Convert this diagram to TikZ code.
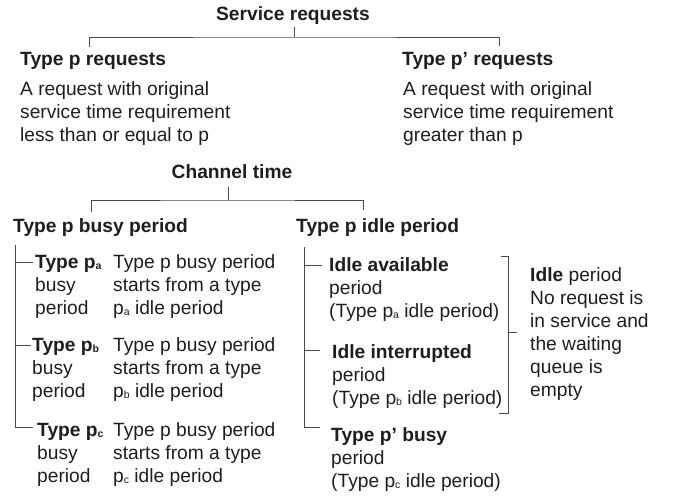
\documentclass[tikz,border=0pt]{standalone}
\usepackage{fontspec}
\setmainfont{Liberation Sans}
\definecolor{ink}{HTML}{1E1E1E}
\definecolor{rule}{HTML}{4A4A4A}
\newcommand{\bodysize}{\fontsize{19.2}{23}\selectfont}
% small lowered index letter after p
\newcommand{\pidx}[1]{p\raisebox{-1pt}{\fontsize{10.5}{10.5}\selectfont #1}}
\begin{document}
\begin{tikzpicture}[x=1pt,y=-1pt,
  txt/.style={anchor=north west,inner sep=0pt,align=left,text=ink,
    font=\bodysize},
  hd/.style={txt,font=\bodysize\bfseries},
  tree/.style={draw=rule,line width=0.9pt}]
\useasboundingbox (0,0) rectangle (673,498);

% top level: service requests
\node[hd,anchor=north] (sr) at (293,4.6) {\strut Service requests};
\node[hd] (tp) at (20,49.6) {\strut Type p requests};
\node[txt] (tpd) at (20,79.6) {\strut A request with original\\service time requirement\\less than or equal to p};
\node[hd] (tpp) at (402,49.6) {\strut Type p’ requests};
\node[txt] (tppd) at (403,79.6) {\strut A request with original\\service time requirement\\greater than p};

\coordinate (srj) at (294,37);
\coordinate (srs) at (294,27);
\coordinate (tpj) at (89,47);
\coordinate (tppj) at (499,46);
\draw[tree] (srs) -- (srj);
\draw[tree] (tpj) |- (srj) -| (tppj);

% channel time
\node[hd,anchor=north] (ct) at (232,162.6) {\strut Channel time};
\node[hd] (bp) at (13,216.6) {\strut Type p busy period};
\node[hd] (ip) at (296,216.6) {\strut Type p idle period};

\coordinate (cts) at (228,187);
\coordinate (ctj) at (228,200);
\coordinate (bpj) at (91,212);
\coordinate (ipj) at (363,210);
\draw[tree] (cts) -- (ctj);
\draw[tree] (bpj) |- (ctj) -| (ipj);

% busy period branches
\node[txt] (pa) at (35,252.6) {\strut\textbf{Type \pidx{a}}\\busy\\period};
\node[txt] (pad) at (113,252.6) {\strut Type p busy period\\starts from a type\\\pidx{a} idle period};
\node[txt] (pb) at (32,335.6) {\strut\textbf{Type \pidx{b}}\\busy\\period};
\node[txt] (pbd) at (113,335.6) {\strut Type p busy period\\starts from a type\\\pidx{b} idle period};
\node[txt] (pc) at (37,420.6) {\strut\textbf{Type \pidx{c}}\\busy\\period};
\node[txt] (pcd) at (113,420.6) {\strut Type p busy period\\starts from a type\\\pidx{c} idle period};

\coordinate (lt) at (15,245);
\coordinate (lb) at (15,427);
\coordinate (la) at (33,262);
\coordinate (lbb) at (31,345);
\coordinate (lc) at (33,427);
\draw[tree] (lt) -- (lb) -- (lc);
\draw[tree] (la -| lt) -- (la);
\draw[tree] (lbb -| lt) -- (lbb);

% idle period branches
\node[txt] (ia) at (329,255.6) {\strut\textbf{Idle available}\\period\\(Type \pidx{a} idle period)};
\node[txt] (ii) at (332,342.6) {\strut\textbf{Idle interrupted}\\period\\(Type \pidx{b} idle period)};
\node[txt] (ib) at (331,425.6) {\strut\textbf{Type p’ busy}\\period\\(Type \pidx{c} idle period)};

\coordinate (rt) at (304,247);
\coordinate (rb) at (304,427);
\coordinate (ra) at (322,265);
\coordinate (rii) at (320,350);
\coordinate (rc) at (320,427);
\draw[tree] (rt) -- (rb) -- (rc);
\draw[tree] (ra -| rt) -- (ra);
\draw[tree] (rii -| rt) -- (rii);

% bracket round the two idle kinds
\node[txt] (idl) at (530,265.6) {\strut\textbf{Idle} period\\No request is\\in service and\\the waiting\\queue is\\empty};
\coordinate (bt) at (501,256);
\coordinate (bb) at (499,413);
\coordinate (bm) at (508,332);
\coordinate (bmo) at (517,332);
\draw[tree] (bt) -- (508,256) -- (508,413) -- (bb);
\draw[tree] (bm) -- (bmo);
\end{tikzpicture}
\end{document}
